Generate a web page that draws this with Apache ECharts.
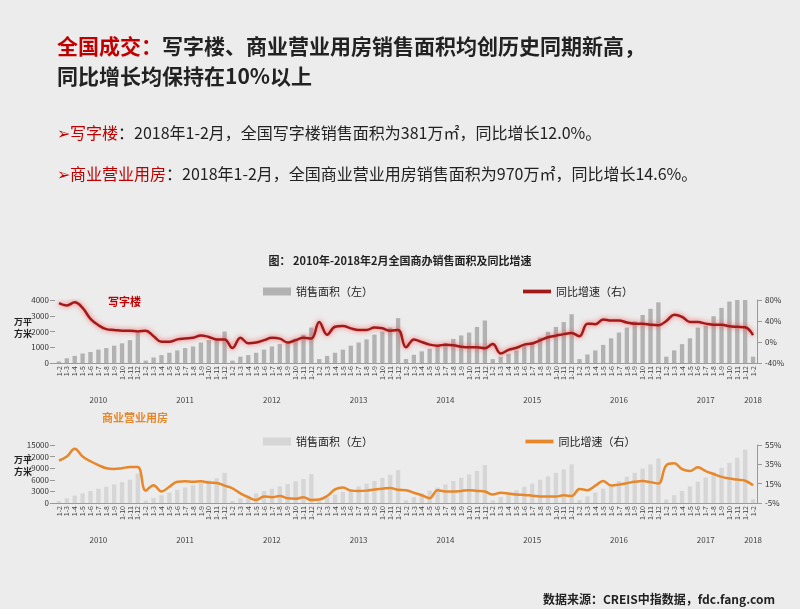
<!DOCTYPE html>
<html><head><meta charset="utf-8">
<script src="https://cdn.jsdelivr.net/npm/echarts@6/dist/echarts.min.js"></script>
<style>html,body{margin:0;padding:0;background:#ececec}#c{width:800px;height:609px}</style>
</head><body><div id="c"></div>
<script>
const years = ['2010','2011','2012','2013','2014','2015','2016','2017','2018'];
const months = ['1-2','1-3','1-4','1-5','1-6','1-7','1-8','1-9','1-10','1-11','1-12'];
const categories = [];
years.forEach(y => { (y === '2018' ? ['1-2'] : months).forEach(m => categories.push(y + '|' + m)); });

const officeArea = [
 100,300,450,600,700,850,950,1100,1250,1450,1900,
 150,350,500,650,800,950,1050,1300,1450,1550,2000,
 150,400,500,650,850,1050,1200,1350,1550,1800,2250,
 250,450,650,850,1100,1300,1500,1800,2000,2250,2850,
 250,520,740,900,1120,1260,1530,1750,1930,2290,2700,
 250,400,580,800,1080,1350,1620,1980,2290,2600,3100,
 250,540,800,1150,1570,1930,2250,2650,3050,3440,3850,
 400,800,1200,1570,2250,2380,2970,3500,3900,4050,4050,
 400];
const officeYoY = [
 74,69.5,75.5,65,44,32,24.5,23,21.5,21.5,20,
 21.5,11,0.5,0.5,5,6.5,8,12.5,9.5,5,5,
 -11.5,8,-2.5,-1,3.5,8,6.5,-1,3.5,8,6.5,
 38,14,29,30.5,26,23,23,27.5,26,21.5,23,
 -10,5,0,-5,-7,-5,-6,-9,-10,-10,-12,
 -4,-22,-15,-11,-5,-3,3,9,12,15,17,
 11,35,34,43,41,41,37,35,35,33,32,
 40,52,48,38,38,35,33,33,30,29,28,
 13];
const commArea = [
 500,1200,1900,2500,3100,3700,4200,4800,5400,6000,7600,
 600,1300,2000,2700,3400,4000,4600,5200,5800,6400,7800,
 500,1200,1900,2500,3100,3700,4300,4900,5600,6200,7500,
 600,1400,2200,2900,3600,4300,5000,5700,6500,7300,8500,
 700,1500,2400,3200,4000,4800,5700,6500,7400,8300,9800,
 700,1500,2400,3300,4200,5000,6000,6900,7800,8700,10000,
 800,1700,2700,3700,4700,5700,6800,7800,8900,10000,11500,
 900,2000,3100,4300,5500,6600,7900,9100,10400,11700,13800,
 950];
const commYoY = [
 39,43,51,43,38.2,34.2,31,30.2,31,32.2,32.2,
 7.8,13.4,7,11.8,17,17.4,17,17.4,16.2,15.8,13,
 10.2,5,1,-1.8,1.8,1,2.2,-0.2,-0.6,1,-1.8,
 -1.4,2.2,9,11,7.8,7.4,7.8,9,9.8,10.6,8.6,
 8.3,5.6,3,0,8.3,6.8,6.8,7.5,8.3,7.5,6.8,
 3.7,5.6,4.9,3.7,3.4,2.6,1.8,1.8,1.8,3,2.2,
 9.4,8.3,12.9,17.8,13.2,14,15.5,17,17.7,16.6,15.1,
 34,36,30,28,32,28,25,22,20.3,19.2,18,
 13.3];

const F = 'Noto Sans CJK SC';
const chart = echarts.init(document.getElementById('c'));
const yearStart = i => categories[i].split('|')[1] === '1-2';
const yearMid = i => { const m = categories[i].split('|'); return m[1] === '1-7' || m[0] === '2018'; };
const lineIcon = 'path://M0,0h30v4h-30z';

function xAxes(gi) {
  return [
    { type:'category', gridIndex:gi, data:categories, boundaryGap:true,
      axisLine:{lineStyle:{color:'#999'}},
      axisTick:{interval:(i)=>yearStart(i), length:46, lineStyle:{color:'#999'}},
      axisLabel:{interval:0, rotate:90, fontSize:7, color:'#444', fontFamily:F, margin:3,
        formatter:v=>v.split('|')[1]} },
    { type:'category', gridIndex:gi, data:categories, position:'bottom', offset:25,
      axisLine:{show:false}, axisTick:{show:false},
      axisLabel:{interval:(i)=>yearMid(i), fontSize:8, color:'#444', fontFamily:F,
        formatter:v=>v.split('|')[0]} }
  ];
}
const rb = {a:{fontSize:16,color:'#c00000',fontWeight:'normal'},r:{fontSize:16,color:'#c00000',fontFamily:F,fontWeight:'normal'},b:{fontSize:16,color:'#222',fontFamily:F,fontWeight:'normal'}};

chart.setOption({
  backgroundColor:'#ececec',
  animation:false,
  textStyle:{fontFamily:F},
  title:[
    {left:52, top:26, text:'{r|全国成交：}{b|写字楼、商业营业用房销售面积均创历史同期新高，}\n{b|同比增长均保持在10%以上}',
     textStyle:{rich:{r:{fontSize:21,fontWeight:'bold',color:'#c00000',fontFamily:F,lineHeight:30},
                      b:{fontSize:21,fontWeight:'bold',color:'#222',fontFamily:F,lineHeight:30}}}},
    {left:52, top:120, text:'{a|➢}{r|写字楼}{b|：2018年1-2月，全国写字楼销售面积为381万㎡，同比增长12.0%。}', textStyle:{rich:rb}},
    {left:52, top:161, text:'{a|➢}{r|商业营业用房}{b|：2018年1-2月，全国商业营业用房销售面积为970万㎡，同比增长14.6%。}', textStyle:{rich:rb}},
    {left:'center', top:250, text:'图： 2010年-2018年2月全国商办销售面积及同比增速', textStyle:{fontSize:11,fontWeight:'bold',color:'#222',fontFamily:F}},
    {left:103, top:291, text:'写字楼', textStyle:{fontSize:11,fontWeight:'bold',color:'#c00000',fontFamily:F}},
    {left:97, top:407, text:'商业营业用房', textStyle:{fontSize:11,fontWeight:'bold',color:'#e8872a',fontFamily:F}},
    {right:20, top:588, text:'数据来源：CREIS中指数据，fdc.fang.com', textStyle:{fontSize:12,fontWeight:'bold',color:'#222',fontFamily:F}}
  ],
  graphic:[
    {type:'text', left:14, top:316, style:{text:'万平\n方米', fontSize:9, fontWeight:'bold', fill:'#222', fontFamily:F, lineHeight:12}},
    {type:'text', left:14, top:454, style:{text:'万平\n方米', fontSize:9, fontWeight:'bold', fill:'#222', fontFamily:F, lineHeight:12}}
  ],
  legend:[
    {top:281, left:258, itemGap:150, itemWidth:28, itemHeight:8,
     data:[{name:'销售面积（左）',icon:'rect'},{name:'同比增速（右）',icon:lineIcon}],
     textStyle:{fontSize:11,color:'#222',fontFamily:F}},
    {top:431, left:258, itemGap:150, itemWidth:28, itemHeight:8,
     data:[{name:'销售面积（左） ',icon:'rect'},{name:'同比增速（右） ',icon:lineIcon}],
     textStyle:{fontSize:11,color:'#222',fontFamily:F}}
  ],
  grid:[
    {left:55, right:43, top:300, height:63},
    {left:55, right:43, top:445, height:58}
  ],
  xAxis:[...xAxes(0), ...xAxes(1)],
  yAxis:[
    {type:'value', gridIndex:0, min:0, max:4000, interval:1000, splitLine:{show:false},
     axisLine:{show:false}, axisTick:{show:true,lineStyle:{color:'#999'}}, axisLabel:{fontSize:8,color:'#333',margin:6,formatter:v=>String(v)}},
    {type:'value', gridIndex:0, min:-40, max:80, interval:40, splitLine:{show:false},
     axisLine:{show:true,lineStyle:{color:'#999'}}, axisTick:{show:true}, axisLabel:{fontSize:8,color:'#333',formatter:'{value}%'}},
    {type:'value', gridIndex:1, min:0, max:15000, interval:3000, splitLine:{show:false},
     axisLine:{show:false}, axisTick:{show:true,lineStyle:{color:'#999'}}, axisLabel:{fontSize:8,color:'#333',margin:6,formatter:v=>String(v)}},
    {type:'value', gridIndex:1, min:-5, max:55, interval:20, splitLine:{show:false},
     axisLine:{show:true,lineStyle:{color:'#999'}}, axisTick:{show:true}, axisLabel:{fontSize:8,color:'#333',formatter:'{value}%'}}
  ],
  series:[
    {name:'销售面积（左）', type:'bar', xAxisIndex:0, yAxisIndex:0, data:officeArea, barWidth:'55%', itemStyle:{color:'#b2b2b2'}},
    {name:'同比增速（右）', type:'line', xAxisIndex:0, yAxisIndex:1, data:officeYoY, smooth:0.4, symbol:'none',
     itemStyle:{color:'#a11a1a'}, lineStyle:{width:2.5,color:'#a11a1a',shadowBlur:5,shadowColor:'rgba(255,60,60,0.8)'}},
    {name:'销售面积（左） ', type:'bar', xAxisIndex:2, yAxisIndex:2, data:commArea, barWidth:'55%', itemStyle:{color:'#d6d6d6'}},
    {name:'同比增速（右） ', type:'line', xAxisIndex:2, yAxisIndex:3, data:commYoY, smooth:0.4, symbol:'none',
     itemStyle:{color:'#e8872a'}, lineStyle:{width:2.5,color:'#e8872a'}}
  ]
});
</script></body></html>
